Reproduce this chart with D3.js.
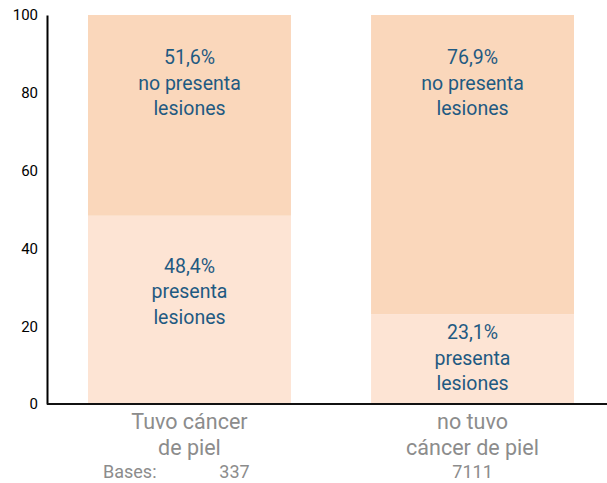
<!DOCTYPE html>
<html>
<head>
<meta charset="utf-8">
<script src="https://cdn.jsdelivr.net/npm/d3@7"></script>
<style>
  body { margin: 0; background: #fff; }
  text { font-family: Roboto, "Noto Sans", sans-serif; }
</style>
</head>
<body>
<svg id="chart" width="607" height="483"></svg>
<script>
// data
var groups = ["Tuvo cáncer de piel", "no tuvo cáncer de piel"];
var groupLines = [["Tuvo cáncer", "de piel"], ["no tuvo", "cáncer de piel"]];
var bases = [337, 7111];
var presenta = [48.4, 23.1];
var noPresenta = [51.6, 76.9];
var yTicks = [0, 20, 40, 60, 80, 100];

var margin = {top: 15, right: 0, bottom: 79, left: 47},
    width = 607 - margin.left - margin.right,
    height = 483 - margin.top - margin.bottom;

var svg = d3.select("#chart")
  .append("g")
    .attr("transform", "translate(" + margin.left + "," + margin.top + ")");

var x = d3.scaleBand()
    .domain(groups)
    .range([41, 527])
    .paddingInner(0.283)
    .paddingOuter(0);

var y = d3.scaleLinear()
    .domain([0, 100])
    .range([height, 0]);

var fmt = function(v) { return String(v).replace(".", ",") + "%"; };

var stacks = groups.map(function(g, i) {
  return [
    {g: g, y0: 0, y1: presenta[i], color: "#fde4d4", lines: [fmt(presenta[i]), "presenta", "lesiones"]},
    {g: g, y0: presenta[i], y1: 100, color: "#fad7bb", lines: [fmt(noPresenta[i]), "no presenta", "lesiones"]}
  ];
});
var segs = d3.merge(stacks);

svg.selectAll(".seg")
    .data(segs)
  .enter().append("rect")
    .attr("class", "seg")
    .attr("x", function(d) { return x(d.g); })
    .attr("width", x.bandwidth())
    .attr("y", function(d) { return y(d.y1); })
    .attr("height", function(d) { return y(d.y0) - y(d.y1); })
    .style("fill", function(d) { return d.color; });

// segment labels
segs.forEach(function(d) {
  var top = y(d.y1);
  var h = y(d.y0) - y(d.y1);
  var first = top + (h > 150 ? 57 : 25);
  if (d.y1 === 100) first = top + 49;
  var t = svg.append("text")
      .attr("text-anchor", "middle")
      .style("font-size", "19.5px")
      .style("fill", "#1f5a82");
  d.lines.forEach(function(l, k) {
    t.append("tspan")
      .attr("x", x(d.g) + x.bandwidth() / 2)
      .attr("y", first + k * 25.5)
      .text(l);
  });
});

// y axis
var yAxis = svg.append("g")
    .call(d3.axisLeft(y).tickValues(yTicks).tickSize(0).tickPadding(9));
yAxis.select(".domain").attr("stroke", "#000").attr("stroke-width", 2);
yAxis.selectAll("text")
    .style("font-size", "15px")
    .style("fill", "#000")
    .style("font-family", "Roboto, sans-serif");

// baseline
svg.append("line")
    .attr("x1", 0)
    .attr("x2", width)
    .attr("y1", y(0))
    .attr("y2", y(0))
    .attr("stroke", "#111")
    .attr("stroke-width", 2);

// category labels
groups.forEach(function(g, i) {
  var cx = x(g) + x.bandwidth() / 2;
  groupLines[i].forEach(function(l, k) {
    svg.append("text")
      .attr("x", cx)
      .attr("y", height + 25 + k * 26)
      .attr("text-anchor", "middle")
      .style("font-size", "21.5px")
      .style("fill", "#8c8c8c")
      .text(l);
  });
  svg.append("text")
    .attr("x", cx + (i === 0 ? 45 : 0))
    .attr("y", height + 74)
    .attr("text-anchor", "middle")
    .style("font-size", "18px")
    .style("fill", "#8c8c8c")
    .text(bases[i]);
});

svg.append("text")
    .attr("x", x(groups[0]) + 15)
    .attr("y", height + 74)
    .style("font-size", "18px")
    .style("fill", "#8c8c8c")
    .text("Bases:");
</script>
</body>
</html>
